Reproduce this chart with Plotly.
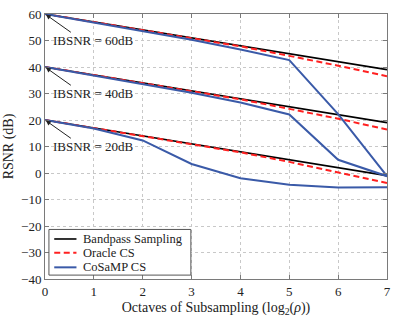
import plotly.graph_objects as go

octaves = [0, 1, 2, 3, 4, 5, 6, 7]

bandpass_60 = [60, 57, 54, 51, 48, 45, 42, 39]
bandpass_40 = [40, 37, 34, 31, 28, 25, 22, 19]
bandpass_20 = [20, 17, 14, 11, 8, 5, 2, -1]

oracle_60 = [60, 57, 54, 51, 47.8, 44.2, 40.5, 36.5]
oracle_40 = [40, 37, 34, 31, 27.8, 24.2, 20.5, 16.4]
oracle_20 = [20, 17, 14, 11, 7.8, 4.2, 0.2, -3.8]

cosamp_60 = [60, 56.8, 53.6, 50.3, 46.6, 42.6, 22.2, -1.2]
cosamp_40 = [40, 36.8, 33.6, 30.3, 26.6, 22.1, 5.0, -1.2]
cosamp_20 = [20, 16.8, 12.3, 3.4, -2.0, -4.4, -5.5, -5.4]

ibsnr_levels = [60, 40, 20]
ibsnr_labels = ["IBSNR = 60dB", "IBSNR = 40dB", "IBSNR = 20dB"]

series_names = ["Bandpass Sampling", "Oracle CS", "CoSaMP CS"]
series_colors = ["#000000", "#ff2020", "#3a5aa8"]
series_dashes = ["solid", "6px,3.5px", "solid"]
series_widths = [1.6, 2.0, 2.0]
series_curves = [
    [bandpass_60, bandpass_40, bandpass_20],
    [oracle_60, oracle_40, oracle_20],
    [cosamp_60, cosamp_40, cosamp_20],
]

FONT = "Times New Roman"
TXT = "#222222"

fig = go.Figure()
for name, curves, color, dash, width in zip(series_names, series_curves, series_colors,
                                            series_dashes, series_widths):
    for i, ys in enumerate(curves):
        fig.add_trace(go.Scatter(
            x=octaves, y=ys, mode="lines", name=name,
            legendgroup=name, showlegend=False,
            line=dict(color=color, dash=dash, width=width),
        ))

for lvl, lab in zip(ibsnr_levels, ibsnr_labels):
    fig.add_annotation(x=1.0, y=lvl - 10, xref="x", yref="y", text=lab,
                       showarrow=False, font=dict(family=FONT, size=13, color=TXT))
    fig.add_annotation(x=0, y=lvl, xref="x", yref="y", text="",
                       showarrow=True, axref="x", ayref="y", ax=0.56, ay=lvl - 7.3,
                       arrowhead=2, arrowsize=1, arrowwidth=1, arrowcolor=TXT,
                       standoff=1)

# legend box (drawn manually for compact MATLAB-style spacing)
fig.add_shape(type="rect", xref="paper", yref="paper",
              x0=0.0115, x1=0.4265, y0=0.0147, y1=0.187,
              line=dict(color="#555555", width=1), fillcolor="white", layer="above")
leg_y = [0.151, 0.099, 0.044]
for name, color, dash, width, yy in zip(series_names, series_colors, series_dashes,
                                        series_widths, leg_y):
    fig.add_shape(type="line", xref="paper", yref="paper",
                  x0=0.027, x1=0.092, y0=yy, y1=yy, layer="above",
                  line=dict(color=color, dash=dash, width=width))
    fig.add_annotation(x=0.104, y=yy, xref="paper", yref="paper", text=name,
                       xanchor="left", yanchor="middle", showarrow=False,
                       font=dict(family=FONT, size=12.5, color=TXT))

axis_common = dict(
    showgrid=True, gridcolor="#c8c8c8", griddash="dot", gridwidth=1,
    showline=True, linecolor="#7a7a7a", linewidth=1, mirror="ticks",
    ticks="inside", ticklen=4, tickcolor="#7a7a7a", zeroline=False,
    tickfont=dict(family=FONT, size=13, color=TXT),
)

fig.update_xaxes(range=[0, 7], dtick=1, **axis_common,
                 title=dict(text="Octaves of Subsampling (log<sub>2</sub>(<i>ρ</i>))",
                            font=dict(family=FONT, size=14, color=TXT), standoff=4))
fig.update_yaxes(range=[-40, 60], dtick=10, **axis_common,
                 title=dict(text="RSNR (dB)", font=dict(family=FONT, size=14, color=TXT),
                            standoff=4))

fig.update_layout(
    width=398, height=319,
    margin=dict(l=44, r=7, t=10, b=36),
    plot_bgcolor="white", paper_bgcolor="white",
    font=dict(family=FONT, size=13, color=TXT),
    showlegend=False,
)

fig.write_html("out.html", config={"displayModeBar": False},
               post_script="document.body.style.margin='0px';")
